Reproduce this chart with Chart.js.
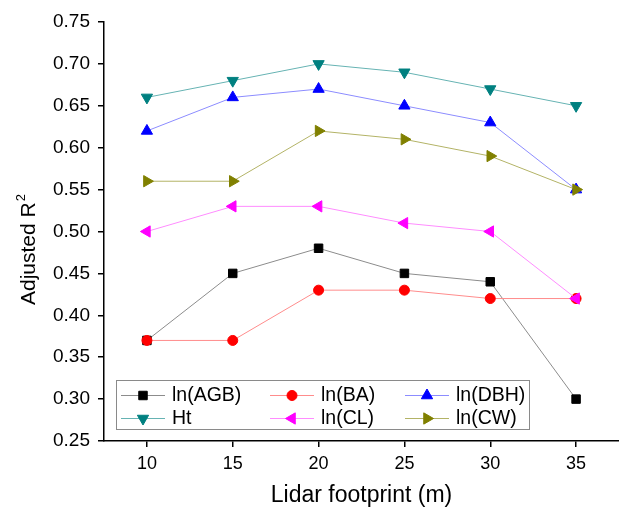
<!DOCTYPE html>
<html>
<head>
<meta charset="utf-8">
<script src="https://cdn.jsdelivr.net/npm/chart.js"></script>
<style>
  body { margin: 0; background: #fff; }
  #wrap { width: 619px; height: 507px; }
</style>
</head>
<body>
<div id="wrap"><canvas id="chart" width="619" height="507"></canvas></div>
<script>
// footprint sizes (m)
const footprints = [10, 15, 20, 25, 30, 35]
const xTicks = [10, 15, 20, 25, 30, 35]

// adjusted R2 per model
const agb = [0.37, 0.45, 0.48, 0.45, 0.44, 0.30]
const ba  = [0.37, 0.37, 0.43, 0.43, 0.42, 0.42]
const dbh = [0.62, 0.66, 0.67, 0.65, 0.63, 0.55]
const ht  = [0.66, 0.68, 0.70, 0.69, 0.67, 0.65]
const cl  = [0.50, 0.53, 0.53, 0.51, 0.50, 0.42]
const cw  = [0.56, 0.56, 0.62, 0.61, 0.59, 0.55]

const FONT = "'Liberation Sans', Arial, sans-serif"

// later series sit on top (lower order = drawn later)
let drawOrder = 6

function series(label, values, color, lineColor, style, rotation, radius) {
    return {
        label: label,
        order: drawOrder--,
        data: values.map((v, i) => ({x: footprints[i], y: v})),
        borderColor: lineColor,
        borderWidth: 1,
        backgroundColor: color,
        pointBackgroundColor: color,
        pointBorderColor: color,
        pointBorderWidth: 1,
        pointStyle: style,
        pointRotation: rotation,
        pointRadius: radius,
        pointHoverRadius: radius,
        tension: 0
    }
}

// legend inside the plot + y title with a real superscript
const extras = {
    id: "extras",
    afterDraw(chart) {
        let ctx = chart.ctx
        ctx.save()

        // y axis title
        ctx.translate(35, 305)
        ctx.rotate(-Math.PI / 2)
        ctx.fillStyle = "#000"
        ctx.textBaseline = "alphabetic"
        ctx.textAlign = "left"
        ctx.font = "21px " + FONT
        let main = "Adjusted R"
        ctx.fillText(main, 0, 0)
        let w = ctx.measureText(main).width
        ctx.font = "13px " + FONT
        ctx.fillText("2", w + 1, -10)
        ctx.setTransform(1, 0, 0, 1, 0, 0)

        // legend
        let box = {x: 116, y: 380, w: 413, h: 49}
        ctx.fillStyle = "#fff"
        ctx.fillRect(box.x, box.y, box.w, box.h)
        ctx.strokeStyle = "#8a8a8a"
        ctx.lineWidth = 1
        ctx.strokeRect(box.x + 0.5, box.y + 0.5, box.w, box.h)

        let cols = [121, 270, 405]
        let rows = [395, 418]
        chart.data.datasets.forEach((ds, i) => {
            let cx = cols[i % 3]
            let cy = rows[Math.floor(i / 3)]
            ctx.strokeStyle = ds.borderColor
            ctx.lineWidth = 1
            ctx.beginPath()
            ctx.moveTo(cx, cy + 0.5)
            ctx.lineTo(cx + 44, cy + 0.5)
            ctx.stroke()
            ctx.fillStyle = ds.pointBackgroundColor
            ctx.strokeStyle = ds.pointBorderColor
            Chart.helpers.drawPoint(ctx, {
                pointStyle: ds.pointStyle,
                rotation: ds.pointRotation,
                radius: ds.pointRadius,
                borderWidth: 1
            }, cx + 22, cy + 0.5)
            ctx.fillStyle = "#000"
            ctx.font = "19.5px " + FONT
            ctx.textBaseline = "middle"
            ctx.textAlign = "left"
            ctx.fillText(ds.label, cx + 51, cy + 1)
        })
        ctx.restore()
    }
}

let chart = new Chart("chart", {
    type: "line",
    data: {
        datasets: [
            series("ln(AGB)", agb, "#000000", "#8c8c8c", "rect", 0, 6),
            series("ln(BA)", ba, "#ff0000", "#ff8c8c", "circle", 0, 5),
            series("ln(DBH)", dbh, "#0000ff", "#8c8cff", "triangle", 0, 6.5),
            series("Ht", ht, "#008080", "#66b3b3", "triangle", 180, 6.5),
            series("ln(CL)", cl, "#ff00ff", "#ff8cff", "triangle", 270, 6.5),
            series("ln(CW)", cw, "#808000", "#b3b366", "triangle", 90, 6.5)
        ]
    },
    options: {
        responsive: false,
        animation: false,
        layout: {autoPadding: false, padding: {top: 22, right: 0, left: 0, bottom: 0}},
        plugins: {
            legend: {display: false},
            tooltip: {enabled: false}
        },
        scales: {
            x: {
                type: "linear",
                min: 7.5,
                max: 37.5,
                afterBuildTicks(axis) {
                    axis.ticks = xTicks.map(v => ({value: v}))
                },
                afterFit(axis) { axis.height = 66 },
                grid: {drawOnChartArea: false, drawTicks: true, tickLength: 6, color: "#000", lineWidth: 1.5},
                border: {color: "#000", width: 1.5},
                ticks: {color: "#000", font: {family: FONT, size: 18}, padding: 6, maxRotation: 0},
                title: {display: true, text: "Lidar footprint (m)", color: "#000", font: {family: FONT, size: 23}, padding: {top: 0, bottom: -2}}
            },
            y: {
                min: 0.25,
                max: 0.75,
                afterFit(axis) { axis.width = 104 },
                grid: {drawOnChartArea: false, drawTicks: true, tickLength: 6, color: "#000", lineWidth: 1.5},
                border: {color: "#000", width: 1.5},
                ticks: {
                    stepSize: 0.05,
                    color: "#000",
                    font: {family: FONT, size: 19},
                    padding: 8,
                    callback: v => v.toFixed(2)
                },
                title: {display: false}
            }
        }
    },
    plugins: [extras]
})
</script>
</body>
</html>
